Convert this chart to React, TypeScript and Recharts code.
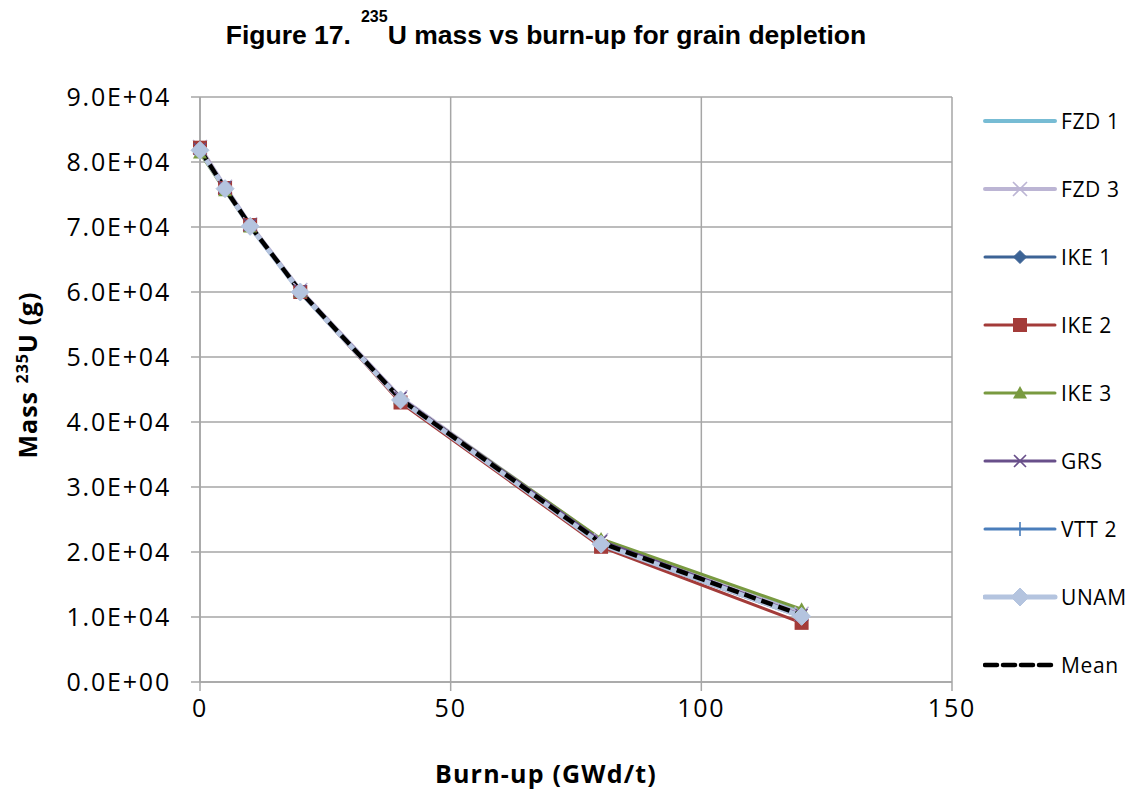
import { LineChart, Line, XAxis, YAxis, CartesianGrid, Legend } from 'recharts';

// burn-up points (GWd/t)
const burnup = [0, 5, 10, 20, 40, 80, 120];

// 235U mass (g) per code
const fzd1 = [82000, 76000, 70200, 60100, 43500, 21400, 10700];
const fzd3 = [82300, 76200, 70400, 60300, 43800, 21800, 10500];
const ike1 = [81800, 75800, 70000, 59900, 43300, 21000, 10000];
const ike2 = [82200, 76000, 70300, 60000, 43000, 20800, 9100];
const ike3 = [81400, 75600, 70000, 60000, 43600, 22000, 11200];
const grs = [82000, 76100, 70300, 60200, 43700, 21700, 10300];
const vtt2 = [81900, 75900, 70100, 60000, 43400, 21200, 10200];
const unam = [81800, 75900, 70100, 60000, 43400, 21200, 10100];
const mean = [81900, 75900, 70200, 60100, 43500, 21400, 10300];

const xTicks = [0, 50, 100, 150];
const yTicks = [0, 10000, 20000, 30000, 40000, 50000, 60000, 70000, 80000, 90000];

type Marker = 'none' | 'x' | 'diamond' | 'square' | 'triangle' | 'plus';

interface Series {
  key: string;
  name: string;
  values: number[];
  color: string;
  width: number;
  marker: Marker;
  size: number;
  dash?: string;
}

const series: Series[] = [
  { key: 'fzd1', name: 'FZD 1', values: fzd1, color: '#77bcd4', width: 4, marker: 'none', size: 0 },
  { key: 'fzd3', name: 'FZD 3', values: fzd3, color: '#bcb5d4', width: 4, marker: 'x', size: 14 },
  { key: 'ike1', name: 'IKE 1', values: ike1, color: '#3c6395', width: 3, marker: 'diamond', size: 13 },
  { key: 'ike2', name: 'IKE 2', values: ike2, color: '#a33b39', width: 3, marker: 'square', size: 14 },
  { key: 'ike3', name: 'IKE 3', values: ike3, color: '#799a40', width: 3, marker: 'triangle', size: 14 },
  { key: 'grs', name: 'GRS', values: grs, color: '#684f8a', width: 3, marker: 'x', size: 12 },
  { key: 'vtt2', name: 'VTT 2', values: vtt2, color: '#4a7ebb', width: 3, marker: 'plus', size: 14 },
  { key: 'unam', name: 'UNAM', values: unam, color: '#b4c4df', width: 5, marker: 'diamond', size: 18 },
  { key: 'mean', name: 'Mean', values: mean, color: '#000000', width: 4.5, marker: 'none', size: 0, dash: '12 6' },
];

const data = burnup.map((b, i) => {
  const row: Record<string, number> = { burnup: b };
  series.forEach((s) => {
    row[s.key] = s.values[i];
  });
  return row;
});

const fmtSci = (v: number) => {
  const [m, e] = v.toExponential(1).split('e');
  const n = parseInt(e, 10);
  return `${m}E${n < 0 ? '-' : '+'}${String(Math.abs(n)).padStart(2, '0')}`;
};

function markerShape(kind: Marker, cx: number, cy: number, color: string, size: number) {
  const h = size / 2;
  switch (kind) {
    case 'x':
      return (
        <path d={`M${cx - h},${cy - h}L${cx + h},${cy + h}M${cx - h},${cy + h}L${cx + h},${cy - h}`} stroke={color} strokeWidth={1.6} fill="none" />
      );
    case 'diamond':
      return <path d={`M${cx},${cy - h}L${cx + h},${cy}L${cx},${cy + h}L${cx - h},${cy}Z`} fill={color} stroke={color} />;
    case 'square':
      return <rect x={cx - h} y={cy - h} width={size} height={size} fill={color} />;
    case 'triangle':
      return <path d={`M${cx},${cy - h}L${cx + h},${cy + h * 0.8}L${cx - h},${cy + h * 0.8}Z`} fill={color} />;
    case 'plus':
      return <path d={`M${cx},${cy - h}L${cx},${cy + h}M${cx - h},${cy}L${cx + h},${cy}`} stroke={color} strokeWidth={1.6} />;
    default:
      return null;
  }
}

const legendContent = () => (
  <div style={{ width: 159 }}>
    {series.map((s) => (
      <div key={s.key} style={{ display: 'flex', alignItems: 'center', height: 68 }}>
        <svg width={76} height={24}>
          <line x1={2} y1={12} x2={72} y2={12} stroke={s.color} strokeWidth={s.width} strokeDasharray={s.dash ? '12 6' : undefined} strokeLinecap="round" />
          {markerShape(s.marker, 37, 12, s.color, s.size)}
        </svg>
        <span style={{ fontSize: 21, letterSpacing: 0.6, color: '#000', marginLeft: 2 }}>{s.name}</span>
      </div>
    ))}
  </div>
);

const tickStyle = { fill: '#000', fontSize: 25, letterSpacing: 1.8 };

export default function App() {
  return (
    <div style={{ position: 'relative', width: 1142, height: 790, margin: '-8px 0 0 -8px', background: '#fff', fontFamily: '"Open Sans", sans-serif' }}>
      <LineChart width={1142} height={790} data={data} margin={{ top: 97, right: 31, bottom: 58, left: 0 }}>
        <CartesianGrid stroke="#a6a6a6" strokeWidth={1.5} />
        <XAxis
          dataKey="burnup"
          type="number"
          domain={[0, 150]}
          ticks={xTicks}
          height={50}
          stroke="#a6a6a6"
          strokeWidth={1.5}
          tickSize={9}
          tick={tickStyle}
          tickMargin={8}
        />
        <YAxis
          type="number"
          domain={[0, 90000]}
          ticks={yTicks}
          width={200}
          stroke="#a6a6a6"
          strokeWidth={1.5}
          tickSize={9}
          tickFormatter={fmtSci}
          tick={tickStyle}
          tickMargin={20}
        />
        <Legend
          layout="vertical"
          align="right"
          verticalAlign="top"
          content={legendContent}
          wrapperStyle={{ position: 'absolute', left: 983, top: 87, width: 159 }}
        />
        {series.map((s) => (
          <Line
            key={s.key}
            dataKey={s.key}
            name={s.name}
            type="linear"
            stroke={s.color}
            strokeWidth={s.width}
            strokeDasharray={s.dash}
            isAnimationActive={false}
            dot={(p: any) => (
              <g key={`${s.key}-${p.index}`}>{markerShape(s.marker, p.cx, p.cy, s.color, s.size)}</g>
            )}
            activeDot={false}
          />
        ))}
      </LineChart>
      <div
        style={{
          position: 'absolute',
          left: 0,
          width: 1092,
          top: 20,
          textAlign: 'center',
          fontFamily: '"Liberation Sans", Arial, sans-serif',
          fontWeight: 'bold',
          fontSize: 26.5,
          whiteSpace: 'nowrap',
        }}
      >
        Figure 17.
        <span style={{ fontSize: 16, position: 'relative', top: -22, marginLeft: 10 }}>235</span>U mass vs burn-up for grain depletion
      </div>
      <div
        style={{
          position: 'absolute',
          left: 27,
          top: 375,
          transform: 'translate(-50%, -50%) rotate(-90deg)',
          fontWeight: 'bold',
          fontSize: 25,
          letterSpacing: 1,
          whiteSpace: 'nowrap',
        }}
      >
        Mass <sup style={{ fontSize: 16 }}>235</sup>U (g)
      </div>
      <div
        style={{
          position: 'absolute',
          left: 546,
          top: 773,
          transform: 'translate(-50%, -50%)',
          fontWeight: 'bold',
          fontSize: 25,
          letterSpacing: 1.2,
          lineHeight: '30px',
          whiteSpace: 'nowrap',
        }}
      >
        Burn-up (GWd/t)
      </div>
    </div>
  );
}
